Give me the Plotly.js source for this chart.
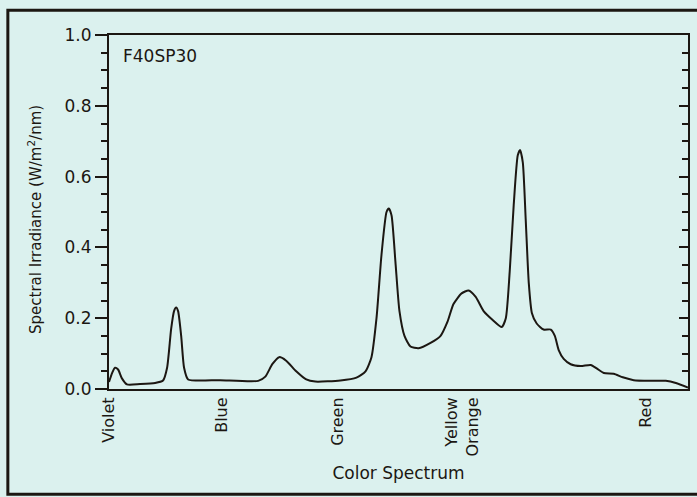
<!DOCTYPE html>
<html>
<head>
<meta charset="utf-8">
<script src="https://cdn.plot.ly/plotly-3.0.1.min.js"></script>
<style>
html,body{margin:0;padding:0;background:#dbf1ee;}
#chart{width:697px;height:497px;}
</style>
</head>
<body>
<div id="chart"></div>
<script>
// Wavelength (nm, approximate) and spectral irradiance (W/m²/nm)
const wavelength = [400.0,401.6,403.1,404.7,406.7,409.3,416.1,423.9,428.0,430.1,432.2,433.7,434.8,435.8,437.4,438.9,441.0,457.6,477.3,481.0,484.6,488.2,491.8,497.0,502.2,506.9,519.9,528.2,532.9,536.0,538.6,541.2,543.8,545.0,546.4,548.4,550.5,553.1,556.2,560.4,566.6,571.8,575.4,578.5,582.7,586.3,590.0,594.1,598.8,603.5,605.6,607.6,609.7,611.8,613.0,614.4,615.9,617.5,619.1,621.6,625.2,628.9,631.0,633.0,635.6,639.2,644.4,649.6,652.7,656.4,661.5,666.2,671.9,680.7,688.5,693.7,700.0];
const irradiance = [0.02,0.045,0.06,0.055,0.03,0.013,0.014,0.017,0.024,0.06,0.17,0.22,0.23,0.22,0.15,0.06,0.027,0.025,0.023,0.035,0.07,0.09,0.08,0.05,0.027,0.021,0.024,0.032,0.05,0.09,0.2,0.38,0.5,0.51,0.49,0.36,0.22,0.15,0.12,0.115,0.13,0.15,0.19,0.24,0.27,0.278,0.26,0.22,0.195,0.175,0.2,0.33,0.52,0.66,0.675,0.64,0.48,0.3,0.215,0.185,0.168,0.168,0.15,0.11,0.085,0.07,0.065,0.068,0.058,0.045,0.043,0.033,0.025,0.023,0.023,0.017,0.004];
const colorTickPos = [400, 458.6, 518.8, 583, 678];
const colorTickText = ['Violet', 'Blue', 'Green', 'Yellow<br>Orange', 'Red'];
const yTicks = [0.0, 0.2, 0.4, 0.6, 0.8, 1.0];
const yTickText = ['0.0', '0.2', '0.4', '0.6', '0.8', '1.0'];

const ink = '#1c1712';
const family = 'DejaVu Sans, sans-serif';
const fnt = {family: family, size: 14, color: ink};

const data = [{
  x: wavelength, y: irradiance, type: 'scatter', mode: 'lines',
  line: {color: ink, width: 2, shape: 'spline', smoothing: 0.6},
  hoverinfo: 'skip', showlegend: false
}, {
  x: [wavelength[0]], y: [irradiance[0]], yaxis: 'y2', type: 'scatter', mode: 'lines',
  line: {color: 'rgba(0,0,0,0)'}, showlegend: false, hoverinfo: 'skip'
}];

const layout = {
  width: 697, height: 497,
  margin: {l: 109, r: 9, t: 35, b: 108},
  paper_bgcolor: '#dbf1ee', plot_bgcolor: '#dbf1ee',
  font: fnt,
  showlegend: false,
  xaxis: {
    range: [400, 700], showgrid: false, zeroline: false,
    showline: true, linecolor: ink, linewidth: 2, mirror: true,
    tickmode: 'array', tickvals: colorTickPos, ticktext: colorTickText,
    ticks: '', tickangle: -90, tickfont: {family: family, size: 16, color: ink},
    title: {text: 'Color Spectrum', font: {family: family, size: 17, color: ink}, standoff: 12}
  },
  yaxis: {
    range: [0, 1], showgrid: false, zeroline: false,
    showline: true, linecolor: ink, linewidth: 2,
    tickmode: 'array', tickvals: yTicks, ticktext: yTickText,
    ticks: 'outside', ticklen: 12, tickwidth: 2, tickcolor: ink,
    tickfont: {family: family, size: 17, color: ink},
    minor: {dtick: 0.05, ticks: 'outside', ticklen: 6, tickwidth: 2, tickcolor: ink}
  },
  yaxis2: {
    range: [0, 1], overlaying: 'y', side: 'right', showgrid: false, zeroline: false,
    showline: true, linecolor: ink, linewidth: 2,
    tickmode: 'array', tickvals: yTicks, showticklabels: false,
    ticks: 'inside', ticklen: 9, tickwidth: 2, tickcolor: ink,
    minor: {dtick: 0.05, ticks: 'inside', ticklen: 6, tickwidth: 2, tickcolor: ink}
  },
  annotations: [{
    text: 'F40SP30', xref: 'paper', yref: 'paper', x: 0.02, y: 0.94,
    xanchor: 'left', yanchor: 'middle', showarrow: false,
    font: {family: family, size: 17, color: ink}
  }, {
    text: 'Spectral Irradiance (W/m<sup>2</sup>/nm)', xref: 'paper', yref: 'paper',
    x: -0.128, y: 0.48, xanchor: 'center', yanchor: 'middle', textangle: -90,
    showarrow: false, font: {family: family, size: 15, color: ink}
  }],
  shapes: [{
    type: 'rect', xref: 'paper', yref: 'paper',
    x0: -0.1747, x1: 1.03, y0: -0.297, y1: 1.07,
    line: {color: ink, width: 3}
  }]
};

Plotly.newPlot('chart', data, layout, {displayModeBar: false, staticPlot: true});
</script>
</body>
</html>
